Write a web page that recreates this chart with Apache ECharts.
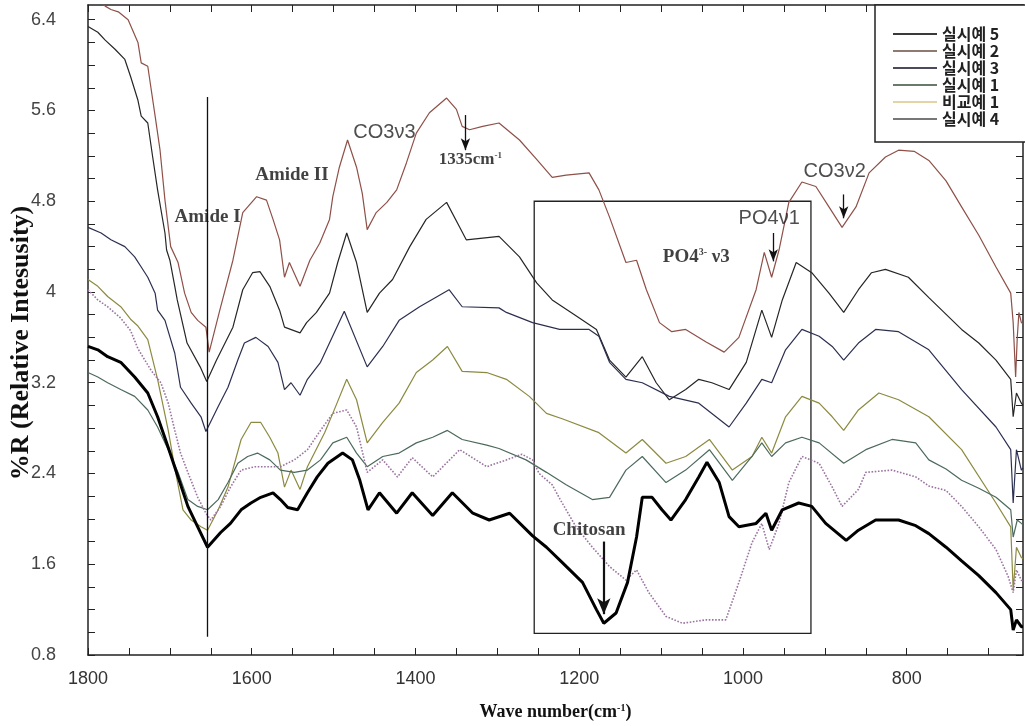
<!DOCTYPE html>
<html><head><meta charset="utf-8">
<script src="https://cdn.jsdelivr.net/npm/echarts@6/dist/echarts.min.js"></script>
<style>html,body{margin:0;padding:0;background:#fff}#c{width:1025px;height:726px}</style>
</head><body><div id="c"></div><script>
// Wavenumber (cm-1) vs %R values
const legendNames = ['실시예 5', '실시예 2', '실시예 3', '실시예 1', '비교예 1', '실시예 4'];
const xTickLabels = [1800, 1600, 1400, 1200, 1000, 800];
const yTickLabels = [0.8, 1.6, 2.4, 3.2, 4, 4.8, 5.6, 6.4];

const ex2 = [[1800,6.68],[1790,6.6],[1779,6.52],[1772,6.49],[1763,6.47],[1751,6.4],[1739,6.2],[1735,6.02],[1727,5.99],[1718,5.55],[1712,5.25],[1706,4.81],[1699,4.40],[1690,4.26],[1682,3.99],[1674,3.82],[1666,3.75],[1656,3.69],[1652,3.47],[1639,3.84],[1623,4.28],[1611,4.70],[1594,4.84],[1582,4.81],[1574,4.64],[1566,4.46],[1560,4.13],[1554,4.26],[1541,4.05],[1529,4.28],[1517,4.43],[1505,4.64],[1501,4.84],[1493,5.10],[1483,5.34],[1472,5.10],[1465,4.87],[1459,4.55],[1448,4.70],[1435,4.79],[1423,4.90],[1411,5.14],[1399,5.40],[1383,5.58],[1362,5.71],[1350,5.61],[1343,5.46],[1334,5.43],[1318,5.46],[1298,5.49],[1273,5.34],[1252,5.17],[1233,5.01],[1216,5.03],[1188,5.05],[1176,4.90],[1163,4.66],[1143,4.26],[1130,4.28],[1118,4.02],[1102,3.73],[1087,3.65],[1070,3.67],[1045,3.56],[1023,3.47],[1005,3.60],[984,4.02],[974,4.35],[965,4.13],[956,4.37],[944,4.79],[928,4.97],[911,4.93],[895,4.75],[879,4.57],[862,4.75],[846,5.05],[826,5.19],[810,5.25],[791,5.24],[773,5.16],[752,4.98],[733,4.75],[712,4.50],[691,4.22],[673,3.99],[670,3.73],[667,3.25],[665,3.6],[663,3.82],[660,3.73],[658,3.72]];

const ex5 = [[1800,6.34],[1788,6.29],[1779,6.22],[1767,6.14],[1755,6.05],[1748,5.90],[1739,5.69],[1735,5.55],[1727,5.49],[1721,5.19],[1715,4.90],[1706,4.52],[1704,4.37],[1700,4.28],[1694,4.05],[1691,3.93],[1679,3.55],[1663,3.34],[1655,3.21],[1643,3.40],[1623,3.69],[1611,4.02],[1599,4.17],[1590,4.18],[1578,4.05],[1566,3.84],[1560,3.69],[1541,3.64],[1533,3.73],[1521,3.82],[1505,3.99],[1495,4.26],[1484,4.52],[1472,4.26],[1459,3.82],[1444,3.99],[1428,4.11],[1407,4.40],[1387,4.64],[1362,4.79],[1346,4.57],[1338,4.46],[1298,4.49],[1273,4.31],[1252,4.08],[1233,3.93],[1204,3.79],[1179,3.67],[1163,3.40],[1143,3.25],[1123,3.43],[1106,3.20],[1090,3.05],[1070,3.14],[1054,3.23],[1038,3.20],[1017,3.14],[996,3.38],[977,3.84],[965,3.60],[952,3.93],[935,4.26],[916,4.17],[895,3.99],[877,3.82],[859,4.02],[843,4.17],[826,4.20],[798,4.13],[773,3.95],[733,3.67],[712,3.55],[691,3.40],[673,3.23],[670,2.90],[666,3.11],[660,3.02],[658,3.0]];

const ex3 = [[1800,4.57],[1784,4.52],[1772,4.46],[1755,4.40],[1743,4.31],[1735,4.22],[1727,4.13],[1718,3.99],[1715,3.84],[1706,3.75],[1694,3.46],[1687,3.16],[1674,3.02],[1662,2.90],[1656,2.77],[1641,2.99],[1629,3.16],[1617,3.40],[1609,3.55],[1595,3.60],[1580,3.52],[1568,3.38],[1560,3.14],[1552,3.20],[1541,3.09],[1532,3.23],[1516,3.38],[1487,3.83],[1459,3.34],[1440,3.52],[1420,3.75],[1395,3.87],[1359,4.02],[1343,3.87],[1298,3.86],[1289,3.82],[1257,3.73],[1224,3.67],[1188,3.67],[1176,3.61],[1163,3.38],[1143,3.23],[1123,3.20],[1090,3.08],[1054,3.02],[1017,2.81],[996,3.02],[977,3.23],[965,3.20],[948,3.49],[928,3.67],[907,3.61],[891,3.52],[877,3.40],[859,3.55],[838,3.67],[810,3.65],[773,3.49],[733,3.14],[691,2.81],[673,2.61],[670,2.14],[666,2.61],[660,2.43],[658,2.45]];

const ex1 = [[1800,3.29],[1788,3.25],[1776,3.20],[1760,3.14],[1743,3.08],[1727,2.96],[1715,2.81],[1702,2.61],[1690,2.41],[1678,2.17],[1666,2.11],[1654,2.08],[1641,2.17],[1629,2.32],[1617,2.49],[1605,2.55],[1593,2.58],[1578,2.52],[1565,2.43],[1548,2.41],[1532,2.43],[1516,2.52],[1501,2.67],[1484,2.72],[1472,2.58],[1459,2.46],[1440,2.55],[1420,2.58],[1399,2.67],[1379,2.72],[1361,2.78],[1343,2.70],[1313,2.65],[1298,2.62],[1265,2.52],[1240,2.41],[1216,2.30],[1184,2.17],[1163,2.19],[1143,2.43],[1123,2.55],[1094,2.32],[1070,2.43],[1041,2.61],[1013,2.34],[989,2.55],[977,2.67],[965,2.55],[948,2.67],[928,2.72],[907,2.67],[877,2.49],[850,2.61],[818,2.70],[789,2.67],[773,2.52],[752,2.44],[733,2.34],[712,2.27],[691,2.19],[673,2.08],[670,1.84],[665,1.99],[660,1.96],[658,1.95]];

const cex1 = [[1800,4.11],[1788,4.05],[1776,3.96],[1760,3.87],[1748,3.76],[1739,3.70],[1727,3.58],[1715,3.23],[1702,2.78],[1693,2.41],[1684,2.08],[1674,1.99],[1662,1.93],[1654,1.90],[1641,2.08],[1629,2.28],[1613,2.70],[1601,2.85],[1589,2.85],[1578,2.72],[1568,2.58],[1560,2.28],[1552,2.43],[1541,2.26],[1532,2.46],[1511,2.76],[1501,2.93],[1484,3.23],[1472,3.05],[1459,2.67],[1440,2.85],[1420,3.02],[1399,3.29],[1379,3.40],[1361,3.52],[1343,3.30],[1313,3.29],[1289,3.23],[1261,3.08],[1240,2.93],[1220,2.88],[1176,2.76],[1143,2.58],[1123,2.70],[1094,2.49],[1070,2.55],[1041,2.70],[1013,2.43],[989,2.55],[977,2.72],[965,2.58],[948,2.90],[928,3.08],[907,3.02],[891,2.90],[877,2.78],[859,2.96],[834,3.11],[810,3.05],[773,2.90],[733,2.61],[691,2.14],[673,1.93],[670,1.37],[666,1.75],[660,1.66],[658,1.65]];

const ex4 = [[1800,3.52],[1788,3.49],[1776,3.43],[1760,3.38],[1743,3.25],[1727,3.11],[1715,2.90],[1702,2.63],[1690,2.37],[1678,2.11],[1666,1.93],[1654,1.75],[1638,1.88],[1626,1.96],[1613,2.08],[1601,2.14],[1589,2.19],[1574,2.23],[1565,2.17],[1556,2.10],[1544,2.08],[1532,2.23],[1520,2.37],[1507,2.49],[1489,2.58],[1477,2.52],[1468,2.34],[1458,2.08],[1444,2.23],[1423,2.05],[1404,2.23],[1379,2.03],[1355,2.23],[1330,2.05],[1310,1.99],[1285,2.05],[1257,1.85],[1240,1.75],[1220,1.61],[1196,1.44],[1179,1.20],[1170,1.08],[1155,1.17],[1141,1.44],[1130,1.84],[1123,2.19],[1111,2.19],[1099,2.08],[1088,1.99],[1070,2.17],[1054,2.37],[1044,2.50],[1029,2.32],[1017,2.02],[1005,1.93],[984,1.96],[972,2.05],[965,1.90],[952,2.08],[932,2.14],[916,2.11],[899,1.96],[874,1.81],[859,1.90],[838,1.99],[810,1.99],[789,1.94],[773,1.87],[752,1.75],[733,1.63],[712,1.50],[691,1.35],[673,1.20],[670,1.02],[666,1.11],[660,1.05],[658,1.05]];

const dotted = [[1800,4.02],[1788,3.93],[1776,3.87],[1760,3.77],[1748,3.66],[1739,3.50],[1723,3.31],[1711,3.20],[1702,3.02],[1694,2.78],[1687,2.58],[1678,2.41],[1666,2.19],[1656,2.05],[1650,1.99],[1638,2.11],[1626,2.28],[1613,2.43],[1596,2.46],[1580,2.46],[1565,2.46],[1548,2.52],[1532,2.61],[1516,2.78],[1501,2.93],[1484,2.96],[1472,2.81],[1459,2.41],[1440,2.52],[1422,2.37],[1404,2.54],[1379,2.37],[1346,2.61],[1313,2.46],[1289,2.52],[1270,2.57],[1257,2.52],[1249,2.40],[1233,2.30],[1224,2.18],[1204,1.93],[1184,1.75],[1163,1.58],[1143,1.46],[1130,1.55],[1115,1.35],[1094,1.14],[1074,1.08],[1045,1.11],[1021,1.11],[1005,1.44],[989,1.79],[977,1.96],[968,1.73],[956,1.96],[944,2.32],[928,2.55],[907,2.49],[891,2.28],[879,2.11],[859,2.26],[850,2.41],[818,2.43],[789,2.37],[773,2.29],[752,2.25],[733,2.11],[712,1.93],[691,1.73],[676,1.49],[670,1.35],[666,1.55],[660,1.46],[658,1.45]];

// annotations [wavenumber, value, text, fontSize]
const annoSerif = [[1654,4.66,'Amide I',19],[1551,5.03,'Amide II',19],[1333,5.17,'1335cm{sup|-1}',17],[1057,4.31,'PO4{sup|3-} \u03BD3',19],[1188,1.90,'Chitosan',19]];
const annoSans = [[1438,5.41,'CO3\u03BD3',20],[968,4.65,'PO4\u03BD1',20],[888,5.06,'CO3\u03BD2',20]];
const arrows = [[1339,5.56,5.25],[963,4.52,4.27],[877,4.86,4.65]];
const chitosanArrow = [1170,1.80,1.16];
const amideLine = [1654,5.72,0.96];
const boxRange = [1255,917,0.99,4.80];

const X_MIN = 658, X_MAX = 1800;
const neg = arr => arr.map(p => [-p[0], p[1]]);
const serif = "'Liberation Serif','DejaVu Serif',serif";
const sans = "'Liberation Sans','DejaVu Sans',sans-serif";

const chart = echarts.init(document.getElementById('c'), null, {renderer: 'canvas'});

function line(name, data, color, width, type) {
  return {type: 'line', name, data: neg(data), symbol: 'none', showSymbol: false,
    lineStyle: {color, width, type: type || 'solid'}, itemStyle: {color},
    xAxisIndex: 0, yAxisIndex: 0, silent: true, z: 3};
}

const supRich = fs => ({sup: {fontSize: Math.round(fs * 0.55), fontWeight: 'bold', fontFamily: serif, verticalAlign: 'top', lineHeight: fs, color: '#111'}});

const annoData = annoSerif.map(a => ({value: [-a[0], a[1]], name: a[2],
  label: {fontFamily: serif, fontWeight: 'bold', fontSize: a[3], lineHeight: a[3], color: '#111', rich: supRich(a[3])}}))
  .concat(annoSans.map(a => ({value: [-a[0], a[1]], name: a[2],
  label: {fontFamily: sans, fontWeight: 'normal', fontSize: a[3], color: '#222'}})));

const mlData = arrows.map(a => [
  {coord: [-a[0], a[1]], symbol: 'none'},
  {coord: [-a[0], a[2]], symbol: 'arrow', symbolSize: [7, 12]}
]);
mlData.push([
  {coord: [-chitosanArrow[0], chitosanArrow[1]], symbol: 'none', lineStyle: {width: 2.2}},
  {coord: [-chitosanArrow[0], chitosanArrow[2]], symbol: 'arrow', symbolSize: [10, 16]}
]);
mlData.push([
  {coord: [-amideLine[0], amideLine[1]], symbol: 'none'},
  {coord: [-amideLine[0], amideLine[2]], symbol: 'none'}
]);

const axisCommonX = {type: 'value', min: -X_MAX, max: -X_MIN, interval: 50,
  axisLine: {show: true, onZero: false, lineStyle: {color: '#222', width: 1.5}},
  axisTick: {show: true, inside: true, length: 7, lineStyle: {color: '#222', width: 1}},
  splitLine: {show: false}};
const axisCommonY = {type: 'value', min: 0.8, max: 6.53, interval: 0.2,
  axisLine: {show: true, onZero: false, lineStyle: {color: '#222', width: 1.5}},
  axisTick: {show: true, inside: true, length: 7, lineStyle: {color: '#222', width: 1}},
  splitLine: {show: false}};

const legendIcon = 'path://M0,6h44v1.8h-44z';
const option = {
  animation: false,
  backgroundColor: '#fff',
  grid: {left: 88, right: 2, top: 5, bottom: 71, containLabel: false, outerBoundsMode: 'none'},
  legend: {
    orient: 'vertical', left: 875, top: 5,
    padding: [21, 70, 15, 18], itemGap: 1, itemWidth: 44, itemHeight: 13,
    backgroundColor: '#fff', borderColor: '#222', borderWidth: 1.5,
    textStyle: {fontFamily: "'Noto Sans CJK KR',sans-serif", fontWeight: 'bold', fontSize: 16, lineHeight: 13, color: '#222'},
    data: [
      {name: legendNames[0], icon: legendIcon, itemStyle: {color: '#3a3a3a'}},
      {name: legendNames[1], icon: legendIcon, itemStyle: {color: '#8e7a70'}},
      {name: legendNames[2], icon: legendIcon, itemStyle: {color: '#4a4a5c'}},
      {name: legendNames[3], icon: legendIcon, itemStyle: {color: '#6a7a6a'}},
      {name: legendNames[4], icon: legendIcon, itemStyle: {color: '#e2d4a4'}},
      {name: legendNames[5], icon: legendIcon, itemStyle: {color: '#777'}}
    ]
  },
  xAxis: [
    Object.assign({}, axisCommonX, {position: 'bottom',
      axisLabel: {show: true, margin: 15, fontFamily: sans, fontSize: 18, color: '#333', showMaxLabel: false,
        formatter: v => { const w = Math.round(-v); return xTickLabels.indexOf(w) >= 0 ? String(w) : ''; }},
      name: 'Wave number(cm{sup|-1})', nameLocation: 'middle', nameGap: 48, nameMoveOverlap: false,
      nameTextStyle: {fontFamily: serif, fontWeight: 'bold', fontSize: 18, lineHeight: 18, color: '#111', rich: supRich(18)}}),
    Object.assign({}, axisCommonX, {position: 'top', axisLabel: {show: false}})
  ],
  yAxis: [
    Object.assign({}, axisCommonY, {position: 'left',
      axisLabel: {show: true, margin: 32, fontFamily: sans, fontSize: 18, color: '#444', showMaxLabel: false,
        formatter: v => { const r = Math.round(v * 10) / 10; return yTickLabels.some(t => Math.abs(t - r) < 1e-6) ? String(r) : ''; }},
      name: '%R (Relative Intesusity)', nameLocation: 'middle', nameGap: 54, nameRotate: 90, nameMoveOverlap: false,
      nameTextStyle: {fontFamily: serif, fontWeight: 'bold', fontSize: 26, color: '#111', padding: [0, 26, 0, 0]}}),
    Object.assign({}, axisCommonY, {position: 'right', axisLabel: {show: false}})
  ],
  series: [
    line(legendNames[1], ex2, '#8e5048', 1.2),
    line(legendNames[0], ex5, '#262626', 1.2),
    line(legendNames[2], ex3, '#2c3050', 1.2),
    line(legendNames[4], cex1, '#8c8a40', 1.2),
    line(legendNames[3], ex1, '#4c6a5c', 1.2),
    line('dotted', dotted, '#9a74a0', 1.6, 'dotted'),
    line(legendNames[5], ex4, '#000', 3),
    {type: 'scatter', name: 'anno', data: annoData, symbolSize: 0, silent: true, z: 5,
      label: {show: true, position: 'inside', formatter: '{b}', align: 'center', verticalAlign: 'middle'},
      markLine: {silent: true, animation: false, label: {show: false},
        lineStyle: {color: '#111', width: 1.3, type: 'solid'}, symbol: ['none', 'arrow'], data: mlData},
      markArea: {silent: true, label: {show: false},
        itemStyle: {color: 'rgba(0,0,0,0)', borderColor: '#222', borderWidth: 1.3},
        data: [[{coord: [-boxRange[0], boxRange[2]]}, {coord: [-boxRange[1], boxRange[3]]}]]}
    }
  ]
};
chart.setOption(option);
</script></body></html>
